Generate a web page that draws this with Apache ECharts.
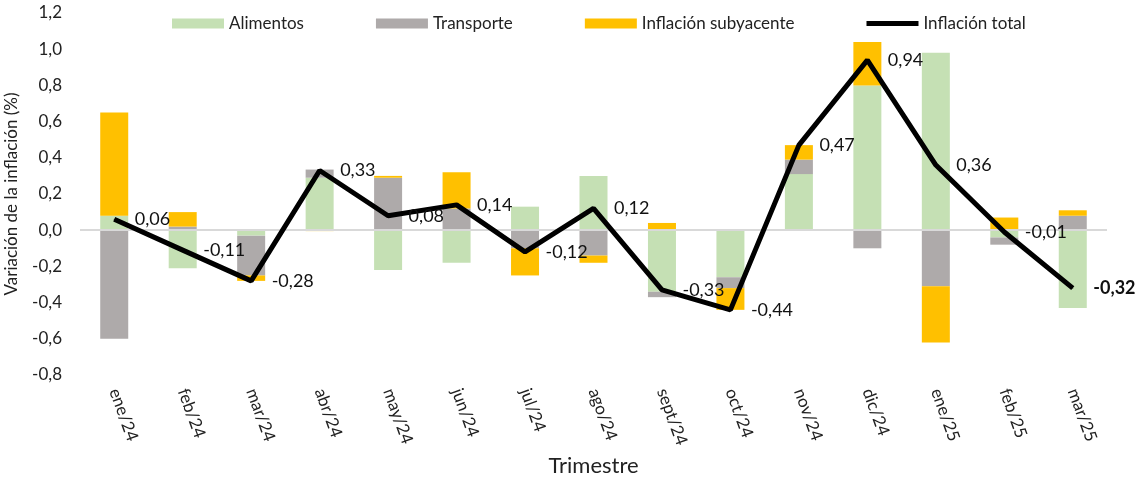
<!DOCTYPE html>
<html>
<head>
<meta charset="utf-8">
<script src="https://cdn.jsdelivr.net/npm/echarts@6/dist/echarts.min.js"></script>
<style>html,body{margin:0;padding:0;background:#fff}#c{width:1141px;height:479px}</style>
</head>
<body>
<div id="c"></div>
<script>
var categories = ['ene/24','feb/24','mar/24','abr/24','may/24','jun/24','jul/24','ago/24','sept/24','oct/24','nov/24','dic/24','ene/25','feb/25','mar/25'];
var alimentos   = [0.08, -0.21, -0.03, 0.29, -0.22, -0.18, 0.13, 0.30, -0.34, -0.26, 0.31, 0.80, 0.98, -0.04, -0.43];
var transporte  = [-0.60, 0.02, -0.22, 0.045, 0.29, 0.12, -0.10, -0.14, -0.03, -0.06, 0.08, -0.10, -0.31, -0.04, 0.08];
var subyacente  = [0.57, 0.08, -0.03, -0.005, 0.01, 0.20, -0.15, -0.04, 0.04, -0.12, 0.08, 0.24, -0.31, 0.07, 0.03];
var total       = [0.06, -0.11, -0.28, 0.33, 0.08, 0.14, -0.12, 0.12, -0.33, -0.44, 0.47, 0.94, 0.36, -0.01, -0.32];
var yTicks = [-0.8, 1.2, 0.2];

var FONT = 'Lato';
var chart = echarts.init(document.getElementById('c'), null, {renderer: 'canvas'});
function fmt(v){ return v.toFixed(2).replace('.', ','); }
var totalData = total.map(function(v, i){
  var d = {value: v};
  if (i === total.length - 1) d.label = {fontWeight: 'bold'};
  return d;
});
chart.setOption({
  animation: false,
  textStyle: {fontFamily: FONT, color: '#222'},
  legend: {
    top: 10, left: 167, itemWidth: 52, itemHeight: 10, itemGap: 72,
    textStyle: {fontFamily: FONT, fontSize: 17, color: '#222'},
    data: [
      {name: 'Alimentos', icon: 'rect'},
      {name: 'Transporte', icon: 'rect'},
      {name: 'Inflación subyacente', icon: 'rect'},
      {name: 'Inflación total', icon: 'path://M0,0 L52,0 L52,5 L0,5 Z'}
    ]
  },
  grid: {left: 80, right: 34, top: 13, bottom: 104, containLabel: false, outerBoundsMode: 'none'},
  xAxis: {
    type: 'category', data: categories,
    axisLine: {show: false}, axisTick: {show: false},
    axisLabel: {rotate: -70, margin: 14, fontSize: 17, color: '#222', fontFamily: FONT, interval: 0},
    name: 'Trimestre', nameLocation: 'middle', nameGap: 80,
    nameTextStyle: {fontSize: 22, color: '#222', fontFamily: FONT}
  },
  yAxis: {
    type: 'value', min: yTicks[0], max: yTicks[1], interval: yTicks[2],
    splitLine: {show: false}, axisLine: {show: false}, axisTick: {show: false},
    axisLabel: {fontSize: 17, color: '#222', margin: 18, fontFamily: FONT,
      formatter: function(v){ return v.toFixed(1).replace('.', ','); }},
    name: 'Variación de la inflación (%)', nameLocation: 'middle', nameGap: 60,
    nameTextStyle: {fontSize: 17, color: '#222', fontFamily: FONT}
  },
  series: [
    {name: 'Alimentos', type: 'bar', stack: 's', barWidth: 28, data: alimentos,
     itemStyle: {color: '#C5E0B4'},
     markLine: {silent: true, symbol: 'none', label: {show: false},
       lineStyle: {color: '#D9D9D9', width: 2, type: 'solid'}, data: [{yAxis: 0}]}},
    {name: 'Transporte', type: 'bar', stack: 's', barWidth: 28, data: transporte,
     itemStyle: {color: '#AEAAAA'}},
    {name: 'Inflación subyacente', type: 'bar', stack: 's', barWidth: 28, data: subyacente,
     itemStyle: {color: '#FFC000'}},
    {name: 'Inflación total', type: 'line', data: totalData, symbol: 'circle', symbolSize: 1, showSymbol: true, z: 5,
     lineStyle: {color: '#000', width: 5},
     itemStyle: {color: '#000'},
     label: {show: true, position: 'right', distance: 20, fontSize: 18, color: '#111', fontFamily: FONT,
       formatter: function(p){ return fmt(p.value); }}}
  ]
});
</script>
</body>
</html>
